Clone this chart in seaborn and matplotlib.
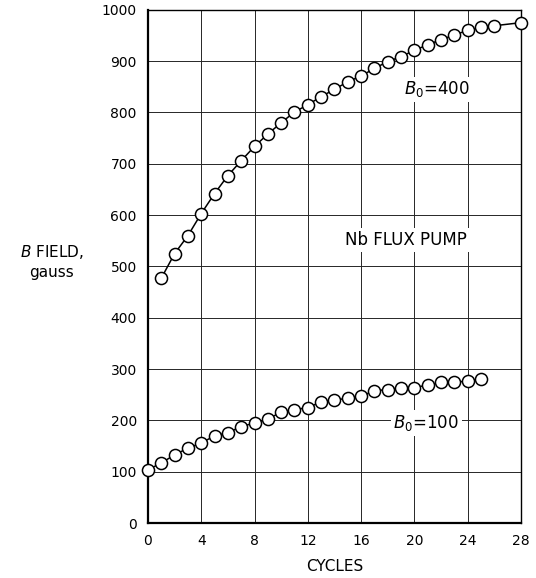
import numpy as np
import pandas as pd
import seaborn as sns
import matplotlib.pyplot as plt

# values
upper_cycles = list(range(1, 27)) + [28]
upper_b = [477, 525, 560, 603, 642, 677, 706, 734, 758, 780, 801, 815, 831,
           845, 860, 871, 886, 899, 909, 921, 932, 942, 951, 960, 966, 969, 975]
lower_cycles = list(range(0, 26))
lower_b = [104, 117, 133, 146, 156, 170, 176, 188, 195, 203, 216, 221, 225,
           236, 240, 243, 247, 258, 260, 264, 264, 269, 274, 274, 277, 281]

x_ticks = [0, 4, 8, 12, 16, 20, 24, 28]
y_ticks = list(range(0, 1001, 100))

sns.set_style("white")
plt.rcParams['font.family'] = ['DejaVu Sans']
plt.rcParams['text.color'] = 'black'
plt.rcParams['xtick.color'] = 'black'
plt.rcParams['ytick.color'] = 'black'
plt.rcParams['axes.labelcolor'] = 'black'

fig = plt.figure(figsize=(5.36, 5.78), dpi=100)
ax = fig.add_axes([0.276, 0.095, 0.696, 0.888])

mk = dict(marker='o', markersize=8.7, markerfacecolor='white',
          markeredgecolor='black', markeredgewidth=1.1,
          color='black', linewidth=1.1, clip_on=False, zorder=5)
sns.lineplot(x=upper_cycles, y=upper_b, ax=ax, **mk)
sns.lineplot(x=lower_cycles, y=lower_b, ax=ax, **mk)

ax.set_xlim(0, 28)
ax.set_ylim(0, 1000)
ax.set_xticks(x_ticks)
ax.set_yticks(y_ticks)
ax.tick_params(length=0, labelsize=10, pad=8)
ax.grid(True, color='0.15', linewidth=0.7)
ax.set_axisbelow(True)

for side in ['left', 'bottom']:
    ax.spines[side].set_linewidth(1.6)
for side in ['top', 'right']:
    ax.spines[side].set_linewidth(1.0)
for s in ax.spines.values():
    s.set_color('black')
    s.set_zorder(3)

ax.set_xlabel("CYCLES", fontsize=11, labelpad=8)

fig.text(52 / 536, 1 - 252 / 578, r"$\mathit{B}$ FIELD,", fontsize=11,
         ha='center', va='center')
fig.text(52 / 536, 1 - 273 / 578, "gauss", fontsize=11,
         ha='center', va='center')

box = dict(facecolor='white', edgecolor='none', pad=2)
ax.text(19.4, 552, "Nb FLUX PUMP", fontsize=12, ha='center', va='center',
        bbox=box, zorder=4)
ax.text(21.7, 845, r"$\mathit{B}_0$=400", fontsize=12, ha='center',
        va='center', bbox=box, zorder=4)
ax.text(20.9, 195, r"$\mathit{B}_0$=100", fontsize=12, ha='center',
        va='center', bbox=box, zorder=4)

fig.savefig("out.png", dpi=100)
